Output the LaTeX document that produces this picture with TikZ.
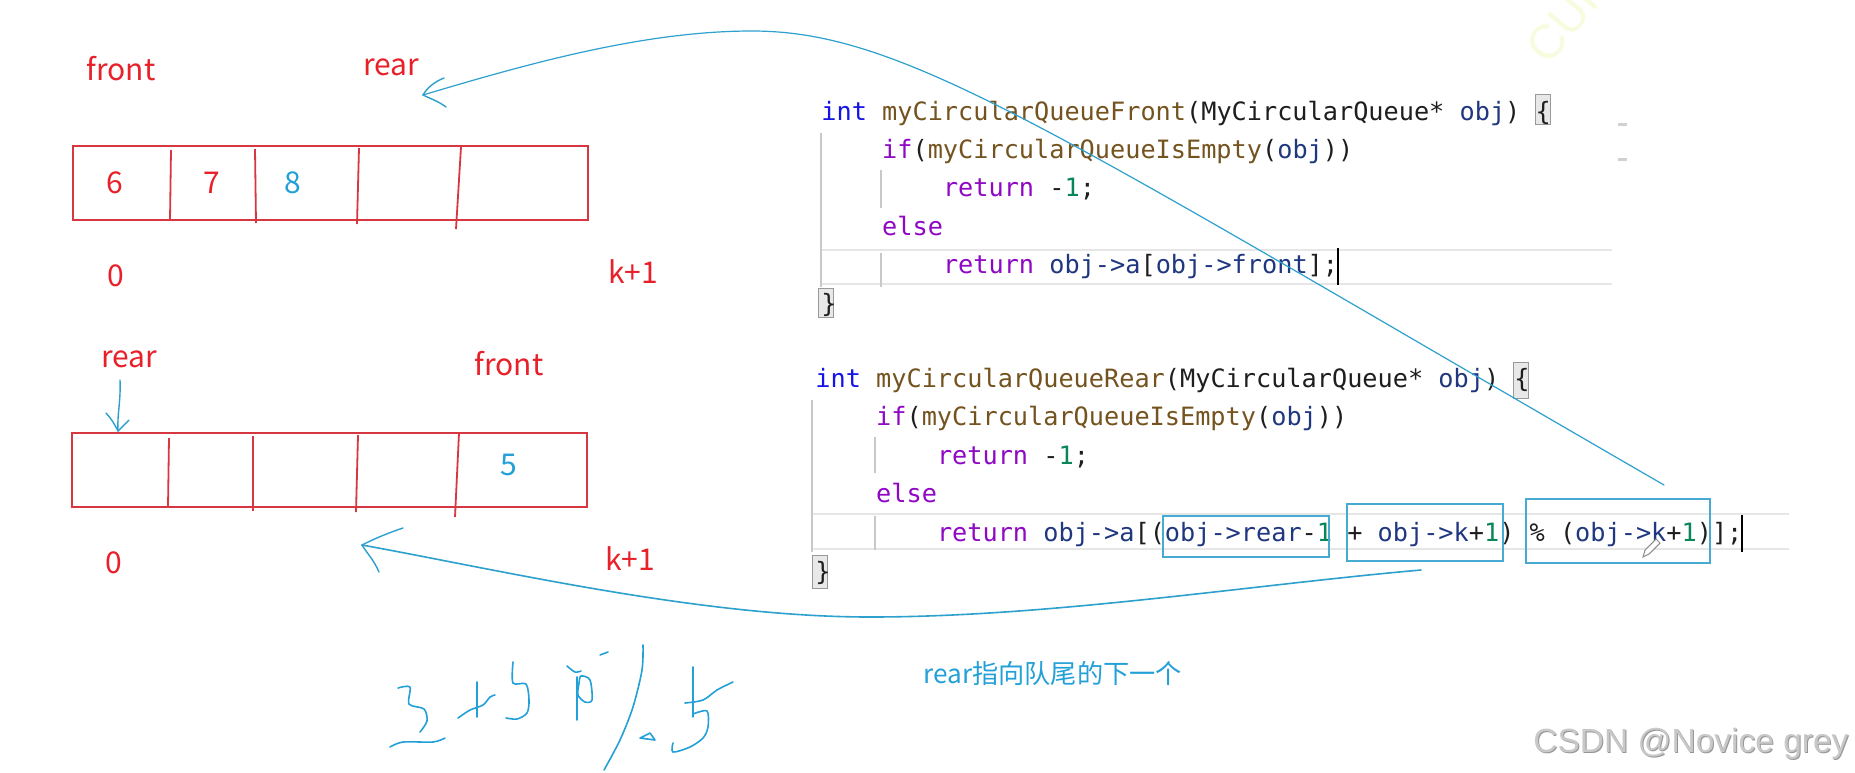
\documentclass[tikz,border=0pt]{standalone}
\usepackage{fontspec}
\newfontfamily\lblfont{Noto Sans CJK SC}
\newfontfamily\codefont{DejaVu Sans Mono}
\newfontfamily\wmfont{Liberation Sans}
\definecolor{lred}{RGB}{232,32,42}
\definecolor{ared}{RGB}{215,55,65}
\definecolor{pblue}{RGB}{35,160,215}
\definecolor{aline}{RGB}{45,160,205}
\definecolor{bxblue}{RGB}{70,170,210}
\definecolor{ckw}{RGB}{143,8,196}
\definecolor{cint}{RGB}{20,20,230}
\definecolor{cfn}{RGB}{116,83,31}
\definecolor{cid}{RGB}{31,55,127}
\definecolor{cnum}{RGB}{9,134,88}
\definecolor{cpun}{RGB}{30,30,30}
\definecolor{guide}{RGB}{200,200,200}
\definecolor{bandc}{RGB}{230,230,230}
\definecolor{wmgray}{RGB}{200,200,200}
\definecolor{wmshadow}{RGB}{150,150,150}
\definecolor{faintyel}{RGB}{248,252,222}
\tikzset{
  lbl/.style={font=\lblfont\fontsize{15}{18}\selectfont, text=lred, inner sep=0, anchor=base},
  bluelbl/.style={lbl, text=pblue},
  codeln/.style={font=\codefont\fontsize{12.62}{15}\selectfont, text=cpun, inner sep=0, anchor=base west},
  arr/.style={draw=ared, line width=1pt},
  divl/.style={draw=ared, line width=0.9pt},
  handarrow/.style={draw=aline, line width=0.7pt, line cap=round, line join=round},
  hand/.style={draw=pblue, line width=0.8pt, line cap=round, line join=round},
  guideline/.style={draw=guide, line width=0.6pt},
  bandline/.style={draw=bandc, line width=1.3pt},
  bracebox/.style={fill=black!9, draw=black!40, line width=0.5pt},
  cbox/.style={draw=bxblue, line width=0.7pt},
}
\newcommand{\Kw}[1]{\textcolor{ckw}{#1}}
\newcommand{\Fn}[1]{\textcolor{cfn}{#1}}
\newcommand{\Id}[1]{\textcolor{cid}{#1}}
\newcommand{\Nm}[1]{\textcolor{cnum}{#1}}
\begin{document}
\begin{tikzpicture}[x=0.5pt,y=-0.5pt]
\useasboundingbox[fill=white] (0,0) rectangle (1855,772);

% faint watermark top right
\node[font=\wmfont\fontsize{24}{26}\selectfont, text=faintyel, rotate=50, inner sep=0] (cui) at (1562,24) {CUI};

% ---------------- top array ----------------
\node[lbl] (tfront) at (121,80) {front};
\node[lbl] (trear) at (391,75) {rear};
\draw[arr] (73,146) rectangle (588,220);
\draw[divl] (171,150) -- (170,220);
\draw[divl] (255,149) -- (256,223);
\draw[divl] (359,148) -- (357,224);
\draw[divl] (461,147) -- (456,229);
\node[lbl] (v6) at (115,193) {6};
\node[lbl] (v7) at (212,193) {7};
\node[bluelbl] (v8) at (293,193) {8};
\node[lbl] (t0) at (116,286) {0};
\node[lbl] (tk) at (633,283) {k+1};

% ---------------- bottom array ----------------
\node[lbl] (brear) at (129,367) {rear};
\node[lbl] (bfront) at (509,375) {front};
\draw[arr] (72,433) rectangle (587,507);
\draw[divl] (169,438) -- (168,507);
\draw[divl] (253,436) -- (253,511);
\draw[divl] (358,435) -- (356,512);
\draw[divl] (459,433) -- (455,517);
\node[bluelbl] (v5) at (509,475) {5};
\node[lbl] (b0) at (114,573) {0};
\node[lbl] (bk) at (630,570) {k+1};

% small arrow to rear cell
\coordinate (sa0) at (120,380);
\coordinate (sa1) at (118,431);
\draw[handarrow] (sa0) .. controls (121,400) and (117,415) .. (sa1);
\draw[handarrow] (106,413) .. controls (111,418) and (115,425) .. (sa1);
\draw[handarrow] (129,420) .. controls (125,424) and (121,428) .. (sa1);

% ---------------- code block 1 ----------------
\draw[bandline] (821,250) -- (1612,250);
\draw[bandline] (821,284) -- (1612,284);
\draw[guideline] (821,133) -- (821,287);
\draw[guideline] (881,170) -- (881,208);
\draw[guideline] (881,253) -- (881,287);
\draw[bracebox] (1535,94) rectangle (1550,124);
\draw[bracebox] (818,288) rectangle (833,317);
\draw[draw=black!18, line width=1.5pt] (1618,124) -- (1627,124);
\draw[draw=black!18, line width=1.5pt] (1618,159) -- (1627,159);
\node[codeln] (a1) at (821,120) {\textcolor{cint}{int} \Fn{myCircularQueueFront}(MyCircularQueue* \Id{obj}) \{};
\node[codeln] (a2) at (881.8,158.4) {\Kw{if}(\Fn{myCircularQueueIsEmpty}(\Id{obj}))};
\node[codeln] (a3) at (942.6,196.8) {\Kw{return} -\Nm{1};};
\node[codeln] (a4) at (881.8,235.2) {\Kw{else}};
\node[codeln] (a5) at (942.6,273.6) {\Kw{return} \Id{obj->a}[\Id{obj->front}];};
\node[codeln] (a6) at (821,312) {\}};
\draw[black, line width=1.4pt] (1338,248) -- (1338,285);

% ---------------- code block 2 ----------------
\draw[bandline] (812,514) -- (1789,514);
\draw[bandline] (812,549) -- (1789,549);
\draw[guideline] (812,400) -- (812,552);
\draw[guideline] (875,437) -- (875,473);
\draw[guideline] (875,516) -- (875,550);
\draw[bracebox] (1513,362) rectangle (1528,398);
\draw[bracebox] (812,555) rectangle (827,588);
\node[codeln] (b1) at (815,387) {\textcolor{cint}{int} \Fn{myCircularQueueRear}(MyCircularQueue* \Id{obj}) \{};
\node[codeln] (b2) at (875.8,425.6) {\Kw{if}(\Fn{myCircularQueueIsEmpty}(\Id{obj}))};
\node[codeln] (b3) at (936.6,464.2) {\Kw{return} -\Nm{1};};
\node[codeln] (b4) at (875.8,502.8) {\Kw{else}};
\node[codeln] (b5) at (936.6,541.4) {\Kw{return} \Id{obj->a}[(\Id{obj->rear}-\Nm{1} + \Id{obj->k}+\Nm{1}) \% (\Id{obj->k}+\Nm{1})];};
\node[codeln] (b6) at (815,580) {\}};
\draw[black, line width=1.4pt] (1742,515) -- (1742,552);
\draw[cbox] (1163,516) rectangle (1329,557);
\draw[cbox] (1347,504) rectangle (1503,561);
\draw[cbox] (1526,499) rectangle (1710,563);
% pencil cursor
\draw[black!45, fill=white, line width=0.5pt] (1643,557) -- (1645,550) -- (1656,539) -- (1660,543) -- (1649,554) -- cycle;

% ---------------- big hand-drawn arrows ----------------
\coordinate (s1) at (1664,485);
\coordinate (p1) at (752,31);
\coordinate (t1) at (423,95);
\draw[handarrow, line width=0.6pt] (s1) .. controls (1050,130) and (905,31) .. (p1) .. controls (645,31) and (530,63) .. (t1);
\draw[handarrow] (444,78) .. controls (434,82) and (427,88) .. (t1);
\draw[handarrow] (t1) .. controls (431,99) and (438,101) .. (446,107);

\coordinate (s2) at (1421,570);
\coordinate (q2) at (870,617);
\coordinate (t2) at (362,545);
\draw[handarrow, line width=0.8pt] (s2) .. controls (1250,585) and (1050,617) .. (q2) .. controls (700,617) and (500,570) .. (t2);
\draw[handarrow] (403,528) .. controls (385,534) and (372,540) .. (t2);
\draw[handarrow] (t2) .. controls (366,552) and (374,560) .. (379,572);

% ---------------- note text ----------------
\node[bluelbl, anchor=base west, font=\lblfont\fontsize{13.1}{16}\selectfont] (note) at (923,683) {rear指向队尾的下一个};

% ---------------- handwriting ----------------
\draw[hand] plot[smooth] coordinates {(398,688) (410,687) (409,704) (424,709) (427,721) (420,732)};
\draw[hand] plot[smooth] coordinates {(390,747) (403,742) (433,742) (445,738)};
\draw[hand] (477,682) -- (477,717);
\draw[hand] plot[smooth] coordinates {(458,718) (470,710) (483,705) (490,697) (495,695)};
\draw[hand] plot[smooth] coordinates {(513,662) (513,683) (526,684) (529,700) (527,713) (517,719) (506,718)};
\draw[hand] plot[smooth] coordinates {(567,666) (575,672) (581,671)};
\draw[hand] (577,677) -- (577,720);
\draw[hand] plot[smooth cycle] coordinates {(581,676) (590,680) (592,700) (585,702) (578,695) (579,683)};
\draw[hand] (600,655) -- (608,652);
\draw[hand] plot[smooth] coordinates {(643,645) (642,670) (633,707) (620,740) (604,770)};
\draw[hand] (640,738) -- (650,733) -- (655,740) -- cycle;
\draw[hand] (693,667) -- (693,717);
\draw[hand] plot[smooth] coordinates {(685,703) (703,700) (717,690) (733,682)};
\draw[hand] plot[smooth] coordinates {(693,714) (707,711) (708,727) (703,738) (690,747) (673,752) (673,743)};

% ---------------- watermark ----------------
\node[font=\wmfont\fontsize{16.75}{18}\selectfont, text=wmshadow, inner sep=0, anchor=base west] (wms) at (1534,753) {CSDN @Novice grey};
\node[font=\wmfont\fontsize{16.75}{18}\selectfont, text=wmgray, inner sep=0, anchor=base west] (wm) at (1533,752) {CSDN @Novice grey};
\end{tikzpicture}
\end{document}
